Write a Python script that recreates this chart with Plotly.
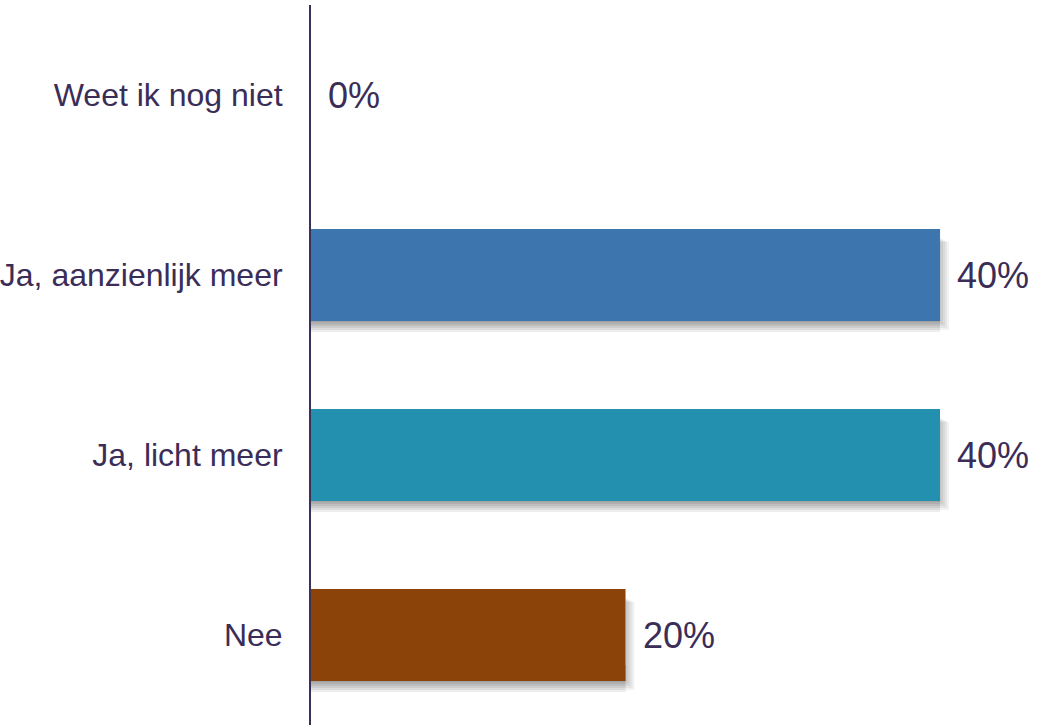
import plotly.graph_objects as go

categories = ["Weet ik nog niet", "Ja, aanzienlijk meer", "Ja, licht meer", "Nee"]
values = [0.0, 0.40, 0.40, 0.20]
labels = ["0%", "40%", "40%", "20%"]
colors = ["#3D76AE", "#3D76AE", "#2290AE", "#8B4309"]

text_color = "#3A2D58"

fig = go.Figure()
fig.add_trace(go.Bar(
    y=categories, x=values, orientation="h",
    marker=dict(color=colors, line=dict(width=0)),
    width=0.51, hoverinfo="skip",
))

shapes = []
for i, v in enumerate(values):
    if v <= 0:
        continue
    for k in range(6):
        grow = 2 + k * 2
        # bottom shadow
        shapes.append(dict(
            type="rect", layer="below",
            xref="x", yref="y",
            x0=0, x1=v,
            ysizemode="pixel", yanchor=i,
            y0=-(45 + grow), y1=-30,
            fillcolor="rgba(0,0,0,0.07)", line=dict(width=0),
        ))
        # right shadow (incl. bottom-right corner)
        shapes.append(dict(
            type="rect", layer="below",
            xref="x", yref="y",
            xsizemode="pixel", xanchor=v,
            x0=0, x1=grow - 3,
            ysizemode="pixel", yanchor=i,
            y0=-(45 + grow - 2), y1=38 - k,
            fillcolor="rgba(0,0,0,0.05)", line=dict(width=0),
        ))

annotations = []
for c, v, t in zip(categories, values, labels):
    annotations.append(dict(
        x=v, y=c, xref="x", yref="y", text=t, showarrow=False,
        xanchor="left", yanchor="middle", xshift=15,
        font=dict(family="Liberation Sans, Arial, sans-serif", size=36, color=text_color),
    ))

fig.update_layout(
    width=1041, height=728,
    margin=dict(l=311, r=0, t=5, b=3),
    paper_bgcolor="white", plot_bgcolor="white",
    showlegend=False,
    shapes=shapes, annotations=annotations,
    font=dict(family="Liberation Sans, Arial, sans-serif", color=text_color),
    xaxis=dict(range=[0, 0.4642], visible=False, showgrid=False, zeroline=False),
    yaxis=dict(
        categoryorder="array", categoryarray=categories,
        range=[3.5, -0.5],
        showline=True, linecolor="#3B2F5C", linewidth=2,
        showgrid=False, zeroline=False, ticks="",
        ticklabelstandoff=20,
        tickfont=dict(size=32, color=text_color, family="Liberation Sans, Arial, sans-serif"),
    ),
)

fig.write_html("out.html", config={"displayModeBar": False},
               post_script="document.body.style.margin='0';document.body.style.overflow='hidden';")
